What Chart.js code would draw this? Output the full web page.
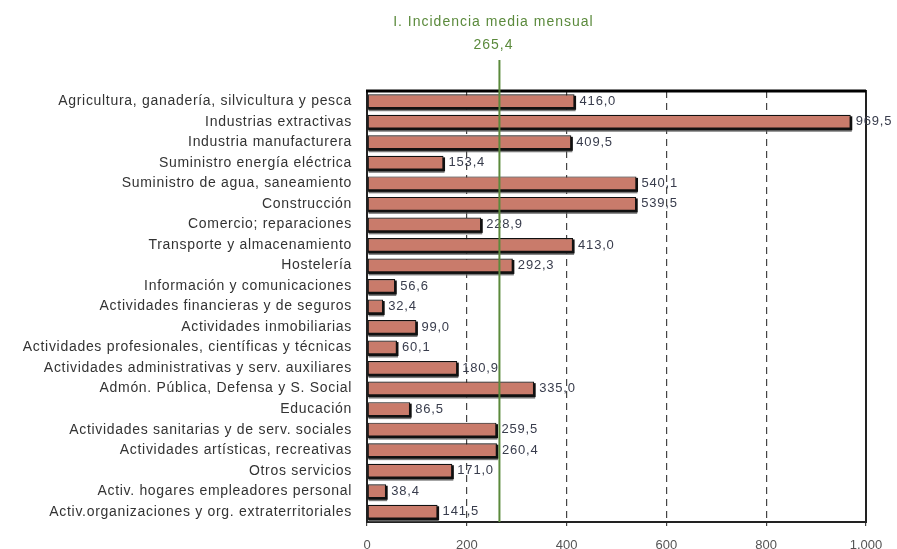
<!DOCTYPE html>
<html><head><meta charset="utf-8">
<script src="https://cdn.jsdelivr.net/npm/chart.js@4"></script>
<style>html,body{margin:0;padding:0;background:#fff}#w{width:897px;height:549px}</style>
</head><body><div id="w"><canvas id="c"></canvas></div>
<script>
const categories = [
"Agricultura, ganadería, silvicultura y pesca","Industrias extractivas","Industria manufacturera","Suministro energía eléctrica","Suministro de agua, saneamiento","Construcción","Comercio; reparaciones","Transporte y almacenamiento","Hostelería","Información y comunicaciones","Actividades financieras y de seguros","Actividades inmobiliarias","Actividades profesionales, científicas y técnicas","Actividades administrativas y serv. auxiliares","Admón. Pública, Defensa y S. Social","Educación","Actividades sanitarias y de serv. sociales","Actividades artísticas, recreativas","Otros servicios","Activ. hogares empleadores personal","Activ.organizaciones y org. extraterritoriales"];
const values = [416.0,969.5,409.5,153.4,540.1,539.5,228.9,413.0,292.3,56.6,32.4,99.0,60.1,180.9,335.0,86.5,259.5,260.4,171.0,38.4,141.5];
const xTicks = [0,200,400,600,800,1000];
const meanValue = 265.4;
const meanLabel = "I. Incidencia media mensual";

const FONT = '"Liberation Sans", Arial, sans-serif';
const fmt = v => v.toFixed(1).replace('.', ',');
const fmtTick = v => v >= 1000 ? v.toLocaleString('de-DE') : String(v);

const extras = {
  id:'extras',
  afterLayout(chart){
    const y = chart.scales.y;
    if (!y._wrapped){
      const orig = y.drawLabels.bind(y);
      y.drawLabels = function(area){
        const c = chart.ctx; c.save(); c.letterSpacing='0.7px'; orig(area); c.restore();
      };
      y._wrapped = true;
    }
  },
  beforeDatasetsDraw(chart){
    const {ctx, chartArea:a} = chart;
    ctx.save();
    ctx.strokeStyle='#222'; ctx.lineWidth=2;
    ctx.strokeRect(a.left, a.top, a.right-a.left, a.bottom-a.top);
    ctx.lineWidth=3; ctx.strokeStyle='#000';
    ctx.beginPath(); ctx.moveTo(a.left-1,a.top); ctx.lineTo(a.right,a.top); ctx.stroke();
    // bar shadows
    const meta = chart.getDatasetMeta(0);
    meta.data.forEach(b=>{
      const p = b.getProps(['x','y','base','height'], true);
      const top = p.y - p.height/2, w = p.x - p.base;
      ctx.fillStyle='rgba(90,90,90,0.8)';
      ctx.fillRect(p.base+1, top+3, w, p.height);
      ctx.fillStyle='#111';
      ctx.fillRect(p.base+0.5, top+1.5, w+1, p.height);
    });
    ctx.restore();
  },
  afterDatasetsDraw(chart){
    const {ctx, chartArea:a, scales:{x}} = chart;
    const meta = chart.getDatasetMeta(0);
    ctx.save();
    ctx.letterSpacing='0.8px';
    ctx.font='13px '+FONT;
    ctx.fillStyle='#383c4c'; ctx.textBaseline='middle'; ctx.textAlign='left';
    meta.data.forEach((b,i)=>{ ctx.fillText(fmt(values[i]), b.x+5, b.y); });
    const mx = x.getPixelForValue(meanValue);
    ctx.strokeStyle='#5b8a3c'; ctx.lineWidth=2;
    ctx.beginPath(); ctx.moveTo(mx, 60); ctx.lineTo(mx, a.bottom); ctx.stroke();
    ctx.fillStyle='#5b8a3c'; ctx.textAlign='center';
    ctx.font='14px '+FONT; ctx.letterSpacing='1px';
    ctx.fillText(meanLabel, mx-6, 22);
    ctx.fillText(fmt(meanValue), mx-6, 45);
    ctx.restore();
  }
};

new Chart(document.getElementById('c'), {
  type:'bar',
  data:{labels:categories, datasets:[{data:values, backgroundColor:'#c97b6b', borderColor:'#111', borderWidth:1.2, borderSkipped:false, barPercentage:0.68, categoryPercentage:1}]},
  options:{
    indexAxis:'y', responsive:true, maintainAspectRatio:false, animation:false,
    layout:{padding:{top:91, right:31, left:0, bottom:0}},
    plugins:{legend:{display:false}, tooltip:{enabled:false}},
    scales:{
      x:{min:0,max:1000, afterBuildTicks(s){s.ticks=xTicks.map(v=>({value:v}));},
        grid:{color:'#444', lineWidth:1.2, tickLength:4, drawTicks:true, drawOnChartArea:true},
        border:{display:false, dash:[7,5]},
        ticks:{color:'#555', font:{size:13, family:FONT}, padding:12, callback:(v)=>fmtTick(v)},
        afterFit(s){s.height=27;}
      },
      y:{grid:{display:false}, border:{display:false},
        ticks:{color:'#333', autoSkip:false, padding:7, font:{size:14, family:FONT}},
        afterFit(s){s.width=367;}
      }
    }
  },
  plugins:[extras]
});
</script></body></html>
